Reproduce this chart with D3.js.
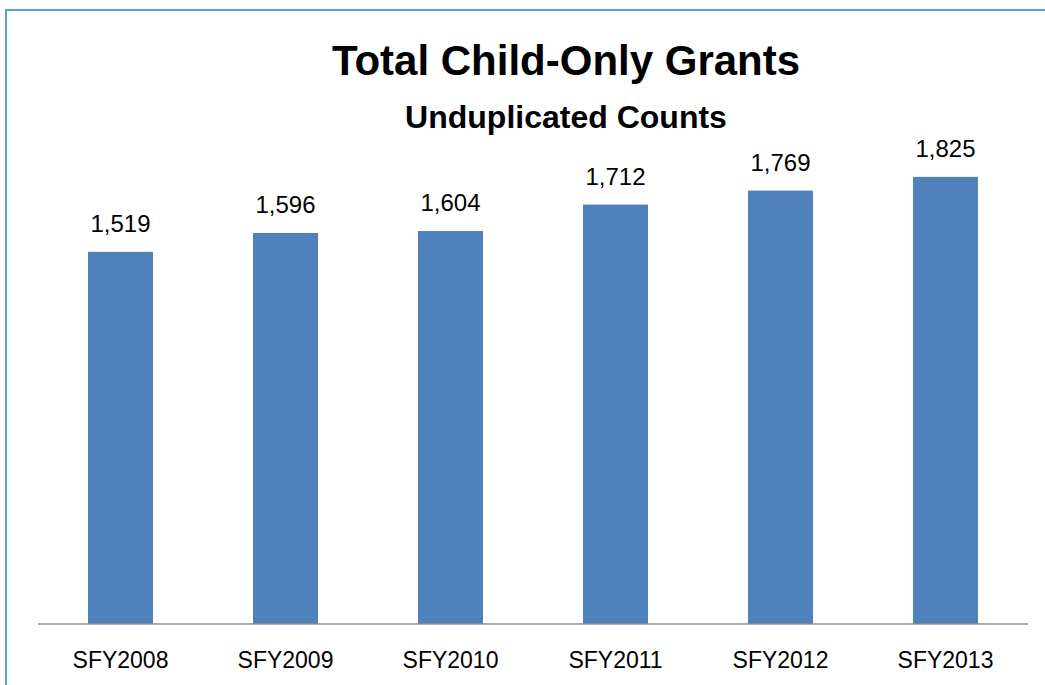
<!DOCTYPE html>
<html>
<head>
<meta charset="utf-8">
<script src="https://cdn.jsdelivr.net/npm/d3@7"></script>
<style>
  html, body { margin: 0; padding: 0; background: #ffffff; }
  svg { display: block; }
</style>
</head>
<body>
<svg id="chart" width="1045" height="685"></svg>
<script>
// Fiscal years and unduplicated child-only grant counts
const categories = ["SFY2008", "SFY2009", "SFY2010", "SFY2011", "SFY2012", "SFY2013"];
const grantCounts = [1519, 1596, 1604, 1712, 1769, 1825];
const titleText = "Total Child-Only Grants";
const subtitleText = "Unduplicated Counts";

const width = 1045, height = 685;
const plot = { left: 38, right: 1028, top: 134, bottom: 624 };
const font = "'Liberation Sans', Arial, sans-serif";

const svg = d3.select("#chart");

// Chart frame (top and left edges visible)
svg.append("rect")
  .attr("x", 6).attr("y", 10)
  .attr("width", width + 20).attr("height", height + 20)
  .attr("fill", "none")
  .attr("stroke", "#5BA0D0")
  .attr("stroke-width", 2);

const x = d3.scaleBand()
  .domain(categories)
  .range([plot.left, plot.right])
  .paddingInner(0.606)
  .paddingOuter(0.303);

const y = d3.scaleLinear()
  .domain([0, 2000])
  .range([plot.bottom, plot.top]);

const data = categories.map((c, i) => ({ cat: c, value: grantCounts[i] }));

// Bars
svg.append("g")
  .selectAll("rect")
  .data(data)
  .join("rect")
  .attr("x", d => x(d.cat))
  .attr("y", d => y(d.value))
  .attr("width", x.bandwidth())
  .attr("height", d => y(0) - y(d.value))
  .attr("fill", "#4F81BD");

// Value labels above bars
svg.append("g")
  .selectAll("text")
  .data(data)
  .join("text")
  .attr("x", d => x(d.cat) + x.bandwidth() / 2)
  .attr("y", d => y(d.value) - 20)
  .attr("text-anchor", "middle")
  .attr("font-family", font)
  .attr("font-size", 24)
  .attr("fill", "#000")
  .text(d => d3.format(",")(d.value));

// Category axis
const xAxis = svg.append("g")
  .attr("transform", `translate(0,${plot.bottom})`)
  .call(d3.axisBottom(x).tickSize(0).tickPadding(30));
xAxis.select(".domain")
  .attr("d", `M${plot.left},0H${plot.right}`)
  .attr("stroke", "#8C8C8C")
  .attr("stroke-width", 1.5);
xAxis.selectAll(".tick text")
  .attr("font-family", font)
  .attr("font-size", 23)
  .attr("fill", "#000")
  .attr("dy", null)
  .attr("y", 44);

// Titles
svg.append("text")
  .attr("x", 566).attr("y", 75)
  .attr("text-anchor", "middle")
  .attr("font-family", font)
  .attr("font-weight", "bold")
  .attr("font-size", 42)
  .attr("fill", "#000")
  .text(titleText);

svg.append("text")
  .attr("x", 566).attr("y", 128)
  .attr("text-anchor", "middle")
  .attr("font-family", font)
  .attr("font-weight", "bold")
  .attr("font-size", 32)
  .attr("fill", "#000")
  .text(subtitleText);
</script>
</body>
</html>
